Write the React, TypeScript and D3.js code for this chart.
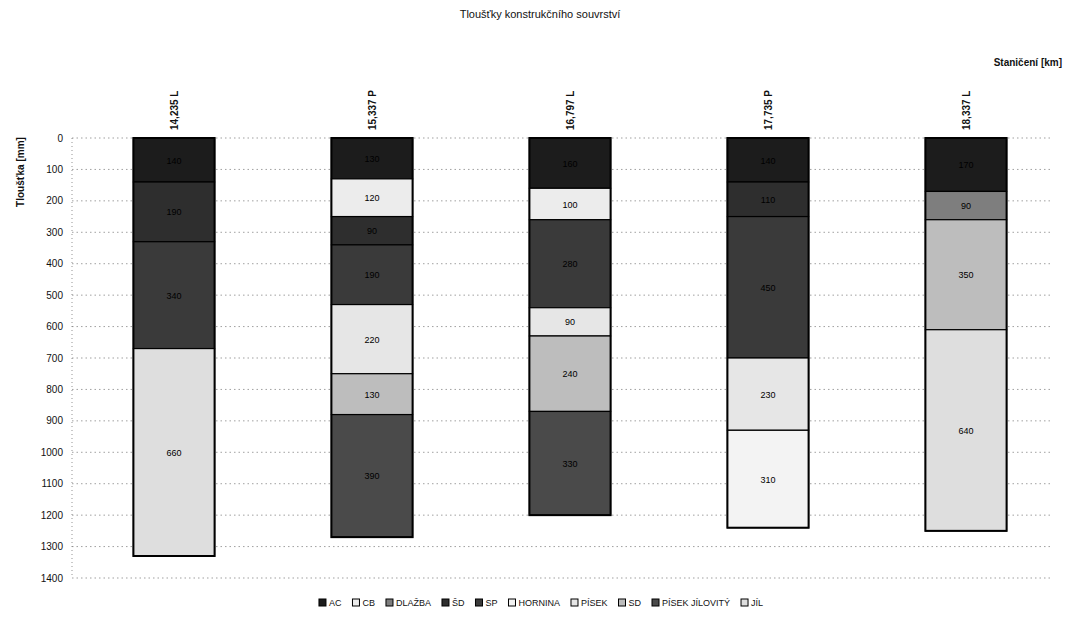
import React from "react";
import * as d3 from "d3";

const title = "Tloušťky konstrukčního souvrství";
const stations = ["14,235 L", "15,337 P", "16,797 L", "17,735 P", "18,337 L"];
const materials = ["AC", "CB", "DLAŽBA", "ŠD", "SP", "HORNINA", "PÍSEK", "SD", "PÍSEK JÍLOVITÝ", "JÍL"];
const materialColors = ["#1c1c1c", "#ececec", "#7e7e7e", "#2e2e2e", "#3a3a3a", "#f3f3f3", "#e6e6e6", "#bdbdbd", "#4a4a4a", "#dedede"];

// layers per station (material, thickness mm), top to bottom
const col1Materials = ["AC", "ŠD", "SP", "JÍL"];
const col1Values = [140, 190, 340, 660];
const col2Materials = ["AC", "CB", "ŠD", "SP", "PÍSEK", "SD", "PÍSEK JÍLOVITÝ"];
const col2Values = [130, 120, 90, 190, 220, 130, 390];
const col3Materials = ["AC", "CB", "SP", "PÍSEK", "SD", "PÍSEK JÍLOVITÝ"];
const col3Values = [160, 100, 280, 90, 240, 330];
const col4Materials = ["AC", "ŠD", "SP", "PÍSEK", "HORNINA"];
const col4Values = [140, 110, 450, 230, 310];
const col5Materials = ["AC", "DLAŽBA", "SD", "JÍL"];
const col5Values = [170, 90, 350, 640];

const yTicks = d3.range(0, 1401, 100);

const W = 1067;
const H = 624;
const font = "'Liberation Sans', Arial, sans-serif";

let ctx: CanvasRenderingContext2D | null = null;
function textWidth(s: string, size: number) {
  if (!ctx && typeof document !== "undefined") {
    ctx = document.createElement("canvas").getContext("2d");
  }
  if (!ctx) return s.length * size * 0.6;
  ctx.font = `${size}px 'Liberation Sans', Arial, sans-serif`;
  return ctx.measureText(s).width;
}

export default function App() {
  const columns = [
    { m: col1Materials, v: col1Values },
    { m: col2Materials, v: col2Values },
    { m: col3Materials, v: col3Values },
    { m: col4Materials, v: col4Values },
    { m: col5Materials, v: col5Values },
  ];
  const x = d3.scaleBand<string>().domain(stations).range([75, 1065]).paddingInner(0.59).paddingOuter(0.295);
  const y = d3.scaleLinear().domain([0, 1400]).range([138, 578]);
  const color = d3.scaleOrdinal<string, string>().domain(materials).range(materialColors);

  // legend layout
  const legendFont = 9;
  const items = materials.map((m) => ({ m, w: 10 + textWidth(m, legendFont) + 11 }));
  const totalW = d3.sum(items, (d) => d.w) - 11;
  let lx = 541 - totalW / 2;
  const legendPos = items.map((it) => {
    const p = lx;
    lx += it.w;
    return { ...it, x: p };
  });

  return (
    <svg width={W} height={H} style={{ position: "absolute", left: 0, top: 0, background: "#fff" }} fontFamily={font}>
      <rect width={W} height={H} fill="#fff" />
      <text x={540} y={18} textAnchor="middle" fontSize={11} fill="#111">{title}</text>
      <text x={1062} y={66} textAnchor="end" fontSize={10} fontWeight="bold" fill="#111">Staničení [km]</text>
      <text transform={`translate(24,172) rotate(-90)`} textAnchor="middle" fontSize={10} fontWeight="bold" fill="#111">Tloušťka [mm]</text>

      {/* gridlines */}
      {yTicks.map((t) => (
        <g key={t}>
          <line x1={72} x2={1050} y1={y(t)} y2={y(t)} stroke="#777" strokeWidth={0.7} strokeDasharray="1.5 3" />
          <text x={63} y={y(t) + 3.5} textAnchor="end" fontSize={10} fill="#111">{t}</text>
        </g>
      ))}
      <line x1={72} x2={72} y1={y(0)} y2={y(1400)} stroke="#666" strokeWidth={0.7} strokeDasharray="1 3" />

      {/* bars */}
      {columns.map((col, ci) => {
        const st = stations[ci];
        const bx = x(st)!;
        const bw = x.bandwidth();
        const cum = d3.cumsum(col.v);
        return (
          <g key={st}>
            {col.v.map((v, li) => {
              const y0 = y(cum[li] - v);
              const y1 = y(cum[li]);
              const fill = color(col.m[li]);
              return (
                <g key={li}>
                  <rect x={bx} y={y0} width={bw} height={y1 - y0} fill={fill} stroke="#000" strokeWidth={1.2} />
                  <text x={bx + bw / 2} y={(y0 + y1) / 2 + 3.5} textAnchor="middle" fontSize={9} fill="#000">{v}</text>
                </g>
              );
            })}
            <rect x={bx} y={y(0)} width={bw} height={y(cum[cum.length - 1]) - y(0)} fill="none" stroke="#000" strokeWidth={2} />
            <text transform={`translate(${bx + bw / 2 + 4},130) rotate(-90)`} textAnchor="start" fontSize={10} fontWeight="bold" fill="#111">{st}</text>
          </g>
        );
      })}

      {/* legend */}
      {legendPos.map((it) => (
        <g key={it.m}>
          <rect x={it.x} y={599} width={7} height={7} fill={color(it.m)} stroke="#000" strokeWidth={1} />
          <text x={it.x + 10} y={606} fontSize={legendFont} fill="#111">{it.m}</text>
        </g>
      ))}
    </svg>
  );
}
